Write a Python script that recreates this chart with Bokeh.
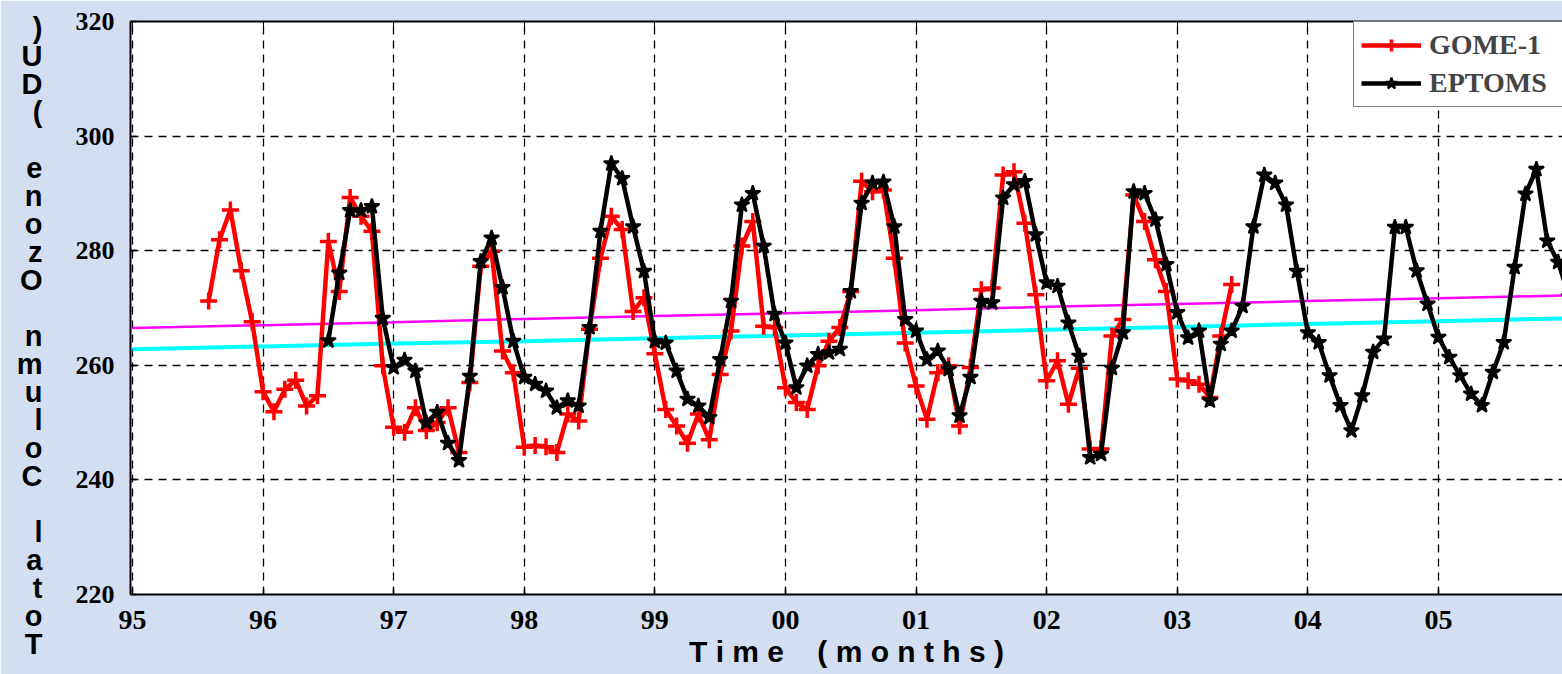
from bokeh.plotting import figure
from bokeh.models import Legend, LegendItem, LinearAxis, FixedTicker, Range1d
from bokeh.embed import file_html
from bokeh.resources import INLINE

# ---------------- data ----------------
# monthly values; index 0 of the month counter = January 1995
gome_start_month = 7
gome_values = [
    271.2, 281.9, 287.1, 276.5, 267.6,
    255.4, 251.9, 255.8, 257.4, 252.9, 254.7, 281.6, 272.9, 289.3, 286.0, 283.4, 259.9,
    249.2, 248.3, 252.6, 248.6, 250.0, 252.6, 244.8, 257.0, 277.3, 279.9, 262.5, 258.7,
    245.7, 246.0, 245.8, 244.8, 251.5, 250.3, 266.3, 278.7, 286.0, 283.7, 269.4, 271.8,
    262.0, 252.3, 249.4, 246.4, 251.5, 247.0, 258.4, 266.0, 280.8, 285.1, 266.8, 266.6,
    256.1, 253.5, 252.3, 259.9, 264.2, 266.6, 272.9, 292.1, 290.3, 290.6, 278.7, 263.9,
    256.4, 250.6, 258.7, 259.9, 249.4, 259.6, 273.2, 273.5, 293.2, 293.8, 284.8, 272.3,
    257.3, 260.8, 253.2, 259.5, 245.4, 245.4, 265.1, 268.0, 289.7, 285.1, 278.4, 272.9,
    257.6, 257.3, 256.7, 254.4, 265.1, 274.1,
]
eptoms_start_month = 18
eptoms_values = [
    264.3, 276.1, 287.0, 287.0, 287.7, 268.2,
    259.6, 260.9, 259.0, 250.0, 251.8, 246.4, 243.4, 258.1, 278.1, 282.2, 273.6, 264.2,
    257.9, 256.7, 255.5, 252.6, 253.8, 252.9, 266.6, 283.4, 295.2, 292.6, 284.2, 276.4,
    264.2, 263.9, 259.0, 254.1, 252.9, 250.9, 261.0, 271.2, 288.0, 290.0, 280.8, 268.9,
    263.9, 256.1, 259.9, 261.9, 262.2, 262.8, 272.9, 288.3, 291.8, 292.0, 284.2, 268.0,
    266.0, 261.0, 262.5, 259.3, 251.2, 257.9, 271.2, 270.9, 289.2, 291.5, 292.1, 282.8,
    274.4, 273.8, 267.4, 261.6, 243.9, 244.5, 259.5, 265.7, 290.3, 290.0, 285.4, 277.6,
    269.2, 264.8, 266.0, 253.8, 263.7, 266.0, 270.3, 284.2, 293.2, 291.8, 288.0, 276.4,
    265.7, 264.0, 258.2, 253.0, 248.6, 254.7, 262.3, 264.6, 284.1, 284.1, 276.5, 270.7,
    264.9, 261.4, 258.2, 255.0, 253.0, 258.8, 264.0, 277.1, 289.9, 294.2, 281.7, 278.0,
    272.0,
]
trend_years = [95, 96, 97, 98, 99, 100, 101, 102, 103, 104, 105, 106]
trend_magenta = [266.5, 267.0, 267.5, 268.1, 268.6, 269.1, 269.6, 270.2, 270.7, 271.2, 271.7, 272.2]
trend_cyan = [262.8, 263.3, 263.8, 264.2, 264.7, 265.2, 265.7, 266.2, 266.7, 267.2, 267.7, 268.2]

year_ticks = [95, 96, 97, 98, 99, 100, 101, 102, 103, 104, 105]
year_labels = ["95", "96", "97", "98", "99", "00", "01", "02", "03", "04", "05"]
y_ticks = [220, 240, 260, 280, 300, 320]

NB = "\u00a0"
x_title = "T i m e" + NB * 4 + "( m o n t h s )"
y_title_text = "Total Column Ozone (DU)"
# characters stacked from bottom (first) to top (last)
y_title_stack = "\n".join([NB, NB] + [c if c != " " else NB for c in reversed(y_title_text)])

# ---------------- figure ----------------
W, H = 1562, 674
LEFT, TOP, BOTTOM = 130, 21, 80

gome_x = [95 + (gome_start_month + i) / 12 for i in range(len(gome_values))]
eptoms_x = [95 + (eptoms_start_month + i) / 12 for i in range(len(eptoms_values))]

p = figure(width=W, height=H, x_range=Range1d(94.985, 105.95), y_range=Range1d(220, 320),
           output_backend="svg", toolbar_location=None,
           min_border_left=LEFT, min_border_right=0, min_border_top=TOP,
           min_border_bottom=BOTTOM, background_fill_color="white",
           border_fill_color="#d3def0")
p.outline_line_color = None

for ax in (p.xaxis[0], p.yaxis[0]):
    ax.axis_line_width = 2
    ax.axis_line_color = "black"
    ax.major_tick_in = 6
    ax.major_tick_out = 0
    ax.minor_tick_line_color = None
    ax.major_tick_line_width = 1.5
    ax.major_label_text_font = "Liberation Serif"
    ax.major_label_text_font_style = "bold"
    ax.major_label_text_color = "black"

p.xaxis.ticker = FixedTicker(ticks=year_ticks)
p.xaxis.major_label_overrides = {t: l for t, l in zip(year_ticks, year_labels)}
p.xaxis.major_label_text_font_size = "28px"
p.xaxis.major_label_standoff = 16
p.xaxis.axis_label = x_title
p.xaxis.axis_label_text_font = "Liberation Sans"
p.xaxis.axis_label_text_font_style = "bold"
p.xaxis.axis_label_text_font_size = "30px"
p.xaxis.axis_label_text_color = "black"
p.xaxis.axis_label_standoff = 3

p.yaxis.ticker = FixedTicker(ticks=y_ticks)
p.yaxis.major_label_text_font_size = "26px"
p.yaxis.major_label_standoff = 16
p.yaxis.axis_label = y_title_stack
p.yaxis.axis_label_orientation = "horizontal"
p.yaxis.axis_label_text_font = "Liberation Sans"
p.yaxis.axis_label_text_font_style = "bold"
p.yaxis.axis_label_text_font_size = "29px"
p.yaxis.axis_label_text_line_height = 0.875
p.yaxis.axis_label_text_color = "black"
p.yaxis.axis_label_standoff = 30

top_axis = LinearAxis(ticker=FixedTicker(ticks=year_ticks), axis_line_width=2,
                      major_tick_in=6, major_tick_out=0, minor_tick_line_color=None,
                      major_label_text_font_size="0px", major_label_text_color=None,
                      major_label_standoff=0)
p.add_layout(top_axis, "above")

p.xgrid.ticker = FixedTicker(ticks=year_ticks)
p.ygrid.ticker = FixedTicker(ticks=y_ticks)
for g in (p.xgrid[0], p.ygrid[0]):
    g.grid_line_color = "black"
    g.grid_line_dash = "8 6"
    g.grid_line_width = 1.3

# trend lines
p.line(trend_years, trend_magenta, line_color="#ff00ff", line_width=2.5)
p.line(trend_years, trend_cyan, line_color="#00ffff", line_width=4)

# series
gl = p.line(gome_x, gome_values, line_color="red", line_width=4.5)
gs = p.scatter(gome_x, gome_values, marker="cross", size=17, line_color="red", line_width=3.5)
el = p.line(eptoms_x, eptoms_values, line_color="black", line_width=4.5)
es = p.scatter(eptoms_x, eptoms_values, marker="star", size=16, line_color="black",
               fill_color="black", line_width=2)

legend = Legend(items=[LegendItem(label="GOME-1", renderers=[gl, gs]),
                       LegendItem(label="EPTOMS", renderers=[el, es])],
                location=(1223, 487))
legend.border_line_color = "black"
legend.border_line_width = 1.5
legend.background_fill_color = "white"
legend.background_fill_alpha = 1
legend.label_text_font = "Liberation Serif"
legend.label_text_font_style = "bold"
legend.label_text_font_size = "28px"
legend.glyph_width = 60
legend.glyph_height = 30
legend.label_standoff = 8
legend.label_width = 130
legend.padding = 7
legend.spacing = 6
legend.margin = 0
p.add_layout(legend)

open("out.html", "w").write(file_html(p, INLINE))
